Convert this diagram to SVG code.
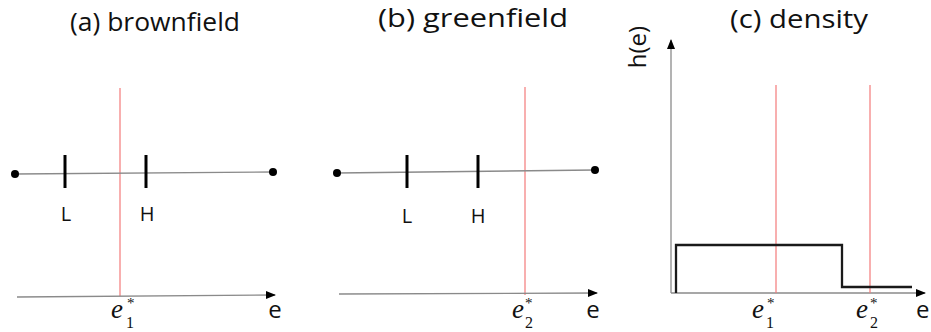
<svg xmlns="http://www.w3.org/2000/svg" width="931" height="332" viewBox="0 0 931 332">
<style>
.title{font-family:"Open Sans","Liberation Sans",sans-serif;font-size:25px;fill:#111}
.lbl{font-family:"Open Sans","Liberation Sans",sans-serif;font-size:20px;fill:#111}
.ax{font-family:"Open Sans","Liberation Sans",sans-serif;font-size:24px;fill:#111}
.m{font-family:"Liberation Serif","DejaVu Serif",serif;font-style:italic;font-size:27px;fill:#111}
.ms{font-family:"Liberation Serif","DejaVu Serif",serif;font-size:16px;fill:#111}
.sup{font-family:"Liberation Serif","DejaVu Serif",serif;font-size:15px;fill:#111}
.line{stroke:#8a8a8a;stroke-width:1.3;fill:none}
.axis{stroke:#8a8a8a;stroke-width:1.3;fill:none}
.red{stroke:#f47a7a;stroke-width:1.2;fill:none}
.tick{stroke:#000;stroke-width:3;fill:none}
.step{stroke:#1a1a1a;stroke-width:2.3;fill:none}
</style>
<defs>
<marker id="arr" markerWidth="10" markerHeight="10" refX="9" refY="5" orient="auto" markerUnits="userSpaceOnUse">
<path d="M0,1 L10,5 L0,9 Z" fill="#000"/>
</marker>
</defs>

<g id="panel-a">
<text class="title" x="155" y="31" text-anchor="middle" textLength="170" lengthAdjust="spacingAndGlyphs">(a) brownfield</text>
<line class="red" x1="120" y1="88" x2="120" y2="296"/>
<line class="line" x1="15" y1="174" x2="273" y2="172"/>
<circle cx="15" cy="174" r="4" fill="#000"/>
<circle cx="273" cy="172" r="4" fill="#000"/>
<line class="tick" x1="65" y1="155" x2="65" y2="188"/>
<line class="tick" x1="146" y1="155" x2="146" y2="188"/>
<text class="lbl" x="66" y="221" text-anchor="middle">L</text>
<text class="lbl" x="147" y="221" text-anchor="middle">H</text>
<line class="axis" x1="17" y1="297" x2="275" y2="295" marker-end="url(#arr)"/>
<text class="ax" x="275" y="318" text-anchor="middle">e</text>
<text class="m" x="111" y="318">e</text>
<text class="ms" x="126" y="328">1</text>
<text class="sup" x="127" y="308">*</text>
</g>

<g id="panel-b">
<text class="title" x="473" y="27" text-anchor="middle" textLength="190" lengthAdjust="spacingAndGlyphs">(b)   greenfield</text>
<line class="red" x1="525" y1="87" x2="525" y2="295"/>
<line class="line" x1="337" y1="173" x2="595" y2="170"/>
<circle cx="337" cy="173" r="4" fill="#000"/>
<circle cx="595" cy="170" r="4" fill="#000"/>
<line class="tick" x1="407" y1="155" x2="407" y2="188"/>
<line class="tick" x1="478" y1="155" x2="478" y2="188"/>
<text class="lbl" x="407" y="223" text-anchor="middle">L</text>
<text class="lbl" x="478" y="223" text-anchor="middle">H</text>
<line class="axis" x1="339" y1="294" x2="597" y2="293" marker-end="url(#arr)"/>
<text class="ax" x="593" y="318" text-anchor="middle">e</text>
<text class="m" x="512" y="318">e</text>
<text class="ms" x="525" y="328">2</text>
<text class="sup" x="525" y="308">*</text>
</g>

<g id="panel-c">
<text class="title" x="799" y="28" text-anchor="middle" textLength="138" lengthAdjust="spacingAndGlyphs">(c)   density</text>
<text class="ax" transform="translate(646,47) rotate(-90)" text-anchor="middle">h(e)</text>
<line class="axis" x1="671" y1="293" x2="671" y2="40" marker-end="url(#arr)"/>
<line class="axis" x1="671" y1="293" x2="925" y2="293" marker-end="url(#arr)"/>
<line class="red" x1="776" y1="85" x2="776" y2="293"/>
<line class="red" x1="870" y1="85" x2="870" y2="293"/>
<polyline class="step" points="676,293 676,245 842,245 842,287 912,287"/>
<text class="m" x="752" y="318">e</text>
<text class="ms" x="766" y="328">1</text>
<text class="sup" x="767" y="308">*</text>
<text class="m" x="856" y="318">e</text>
<text class="ms" x="870" y="328">2</text>
<text class="sup" x="870" y="308">*</text>
<text class="ax" x="916" y="318">e</text>
</g>
</svg>
